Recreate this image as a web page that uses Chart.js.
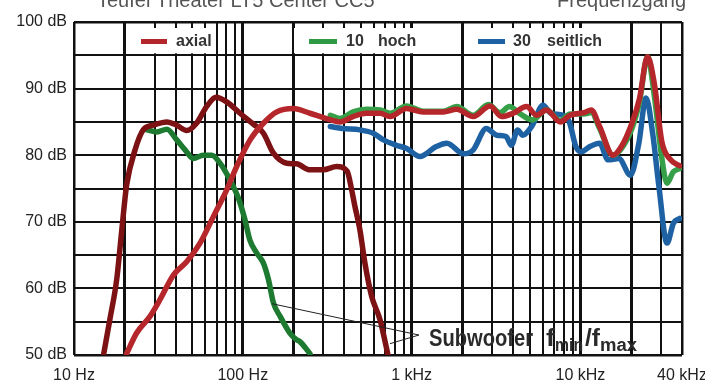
<!DOCTYPE html>
<html><head><meta charset="utf-8">
<script src="https://cdn.jsdelivr.net/npm/chart.js@4.4.1/dist/chart.umd.min.js"></script>
<style>html,body{margin:0;padding:0;background:#fff;overflow:hidden}</style>
</head><body>
<canvas id="c" width="705" height="383"></canvas>
<script>
// ---- axis values ----
const xGridValues = [10,20,30,40,50,60,70,80,90,100,200,300,400,500,600,700,800,900,1000,2000,3000,4000,5000,6000,7000,8000,9000,10000,20000,30000,40000];
const xThickValues = [20,100,200,1000,2000,10000,20000];
const xTickLabels = {10:'10 Hz',100:'100 Hz',1000:'1 kHz',10000:'10 kHz',40000:'40 kHz'};
const yGridValues = [50,55,60,65,70,75,80,85,90,95,100];
const yTickLabels = {50:'50 dB',60:'60 dB',70:'70 dB',80:'80 dB',90:'90 dB',100:'100 dB'};

// ---- series ----
const axialFreq = [20.5,23.5,28.2,32.3,38.8,46.5,55.8,67,80.3,92,110.5,132.5,159,199,250,313,376,450,540,650,745,935,1170,1540,1850,2320,2910,3410,4000,4800,5500,6300,7600,8700,10500,11600,13000,15600,17500,20200,22400,25000,27400,30400,34000,38800];
const axialDb   = [50.2,53.3,55.8,58.3,62.0,64.0,66.8,70.8,74.8,78.3,82.3,84.8,86.5,87.0,86.3,85.5,85.0,85.8,86.3,86.3,85.8,87.0,86.5,86.5,86.9,85.8,87.4,85.8,86.3,87.3,86.0,86.8,85.0,86.0,86.4,86.8,84.3,80.0,81.3,84.8,88.5,94.8,90.8,82.0,79.4,78.4];

const hochFreq = [330,376,450,540,650,745,935,1170,1540,1850,2320,2850,3350,3800,4400,5200,6300,7600,8700,10500,11600,13000,15600,17500,20200,22400,25000,27400,30400,32600,35500,38800];
const hochDb   = [86.0,85.5,86.5,86.9,86.8,86.3,87.4,86.6,86.6,87.3,86.0,87.6,86.4,87.3,86.2,85.3,86.8,85.2,86.2,86.2,86.4,84.0,80.0,81.0,84.0,88.0,94.8,89.0,79.5,75.8,77.5,78.0];

const seitFreq = [330,390,494,593,680,810,935,1120,1400,1620,2030,2320,2770,3200,3630,3900,4250,4550,5200,6000,6700,7900,8600,9400,10100,11400,13000,14600,16900,19800,22200,24500,26800,29200,32600,35600,38800];
const seitDb   = [84.3,84.0,83.8,83.3,82.3,81.5,81.0,79.8,81.3,81.8,80.2,80.8,84.0,83.0,82.8,81.5,83.8,83.0,84.5,87.5,86.3,86.0,85.0,81.3,80.5,81.3,81.8,79.3,79.5,77.0,81.8,88.6,83.3,75.3,66.8,69.8,70.5];

const subMaxFreq = [15,16.3,17.9,19.2,20.5,23,25.7,29.5,35.5,40.6,46.5,53.2,61,69.5,80.3,96.3,115,132.5,152,182,208,250,300,360,415,440,460,494,529,580,650,725];
const subMaxDb   = [50.2,55.3,61.3,68.8,75.5,80.8,83.8,84.5,85.0,84.5,83.7,84.8,87.3,88.7,88.0,86.3,84.7,83.3,80.3,78.8,78.7,77.8,77.8,78.3,77.6,75.0,72.5,68.8,63.8,58.8,55.3,50.0];

const subMinFreq = [27,31,35.5,40.6,45.5,50.9,58.3,65.5,73.3,83.9,94,103,110,121,132.5,142,152,166.5,190,208,218,250];
const subMinDb   = [83.8,83.5,83.9,82.3,80.8,79.5,80.0,80.0,78.8,76.3,73.6,70.3,67.3,65.3,63.8,61.3,57.8,55.8,53.3,52.3,52.0,50.2];

const seriesNames = ['axial','10  hoch','30  seitlich'];
const annotationText = ['Subwoofer','f','min','/f','max'];
const titleLeft = 'Teufel Theater LT5 Center CC5';
const titleRight = 'Frequenzgang';

const zip = (xs, ys) => xs.map((x, i) => ({x, y: ys[i]}));

const FONT = "'Liberation Sans', Arial, sans-serif";

const decorPlugin = {
  id: 'decor',
  beforeDatasetsDraw(chart) {
    const {ctx, chartArea: a, scales} = chart;
    const ys = scales.y;
    const top = a.top + 6, bot = ys.getPixelForValue(95) - 2;
    const boxes = [[127,215],[294,460],[464,628]];
    ctx.save();
    ctx.fillStyle = '#fff';
    boxes.forEach(([l, r]) => ctx.fillRect(l, top, r - l, bot - top));
    const cy = 41.5;
    const items = [
      {c:'#b3262b', s:[141,167], t:[[seriesNames[0],176]]},
      {c:'#2e9a44', s:[309,337], t:[['10',346],['hoch',378]]},
      {c:'#1f62a3', s:[478,505], t:[['30',513],['seitlich',547]]}
    ];
    ctx.font = 'bold 16px ' + FONT;
    ctx.textBaseline = 'middle';
    ctx.fillStyle = '#333';
    items.forEach(it => {
      ctx.strokeStyle = it.c; ctx.lineWidth = 5; ctx.lineCap = 'butt';
      ctx.beginPath(); ctx.moveTo(it.s[0], cy); ctx.lineTo(it.s[1], cy); ctx.stroke();
      it.t.forEach(([txt, x]) => ctx.fillText(txt, x, cy));
    });
    ctx.restore();
  },
  afterDatasetsDraw(chart) {
    const {ctx, scales} = chart;
    const xs = scales.x, ys = scales.y;
    const meet = [xs.getPixelForValue(1106), ys.getPixelForValue(53.0)];
    const g = [xs.getPixelForValue(149), ys.getPixelForValue(57.7)];
    const r = [xs.getPixelForValue(745), ys.getPixelForValue(51.7)];
    ctx.save();
    ctx.strokeStyle = '#222'; ctx.lineWidth = 1;
    ctx.beginPath();
    ctx.moveTo(g[0], g[1]); ctx.lineTo(meet[0], meet[1]);
    ctx.moveTo(r[0], r[1]); ctx.lineTo(meet[0], meet[1]);
    ctx.stroke();
    // annotation text
    ctx.fillStyle = '#2a2a2a';
    ctx.textBaseline = 'alphabetic';
    const base = 346;
    const drawScaled = (txt, x, y, size, w) => {
      ctx.font = 'bold ' + size + 'px ' + FONT;
      const m = ctx.measureText(txt).width;
      ctx.save(); ctx.translate(x, y); ctx.scale(w / m, 1); ctx.fillText(txt, 0, 0); ctx.restore();
    };
    drawScaled(annotationText[0], 429, base, 23, 104);
    drawScaled(annotationText[1], 546, base, 23, 9);
    drawScaled(annotationText[2], 555, base + 5, 18, 28);
    drawScaled(annotationText[3], 585, base, 23, 15);
    drawScaled(annotationText[4], 600, base + 5, 18, 37);
    // title (cut off at top)
    ctx.fillStyle = '#555';
    ctx.font = '20px ' + FONT;
    ctx.textAlign = 'left';
    ctx.fillText(titleLeft, 97, 7);
    ctx.textAlign = 'right';
    ctx.fillText(titleRight, 686, 7);
    ctx.restore();
  }
};

const lineDs = (label, xs, ys, color) => ({
  label, data: zip(xs, ys), borderColor: color, backgroundColor: color,
  borderWidth: 5.5, pointRadius: 0, fill: false,
  cubicInterpolationMode: 'monotone', borderCapStyle: 'round', borderJoinStyle: 'round'
});

new Chart(document.getElementById('c'), {
  type: 'line',
  data: { datasets: [
    lineDs(seriesNames[0], axialFreq, axialDb, '#b5272b'),
    lineDs('Subwoofer fmax', subMaxFreq, subMaxDb, '#7d1214'),
    lineDs(seriesNames[1], hochFreq, hochDb, '#36a049'),
    lineDs('Subwoofer fmin', subMinFreq, subMinDb, '#1d7a30'),
    lineDs(seriesNames[2], seitFreq, seitDb, '#1f62a3')
  ]},
  options: {
    responsive: false, animation: false, devicePixelRatio: 1,
    layout: { padding: { left: 0, right: 23, top: 22, bottom: 0 } },
    plugins: { legend: { display: false }, tooltip: { enabled: false } },
    scales: {
      x: {
        type: 'logarithmic', min: 10, max: 40000,
        afterBuildTicks: s => { s.ticks = xGridValues.map(v => ({ value: v })); },
        afterFit: s => { s.height = 28; s.paddingRight = 0; s.paddingLeft = 0; },
        ticks: { autoSkip: false, maxRotation: 0, minRotation: 0, padding: 11, color: '#222',
          font: { family: FONT, size: 16 }, callback: v => xTickLabels[v] || '' },
        grid: { color: '#111', drawTicks: false,
          lineWidth: c => (c.tick && xThickValues.includes(c.tick.value)) ? 3 : ((c.tick && (c.tick.value === 10 || c.tick.value === 40000)) ? 2.5 : 2) },
        border: { display: false }
      },
      y: {
        min: 50, max: 100,
        afterBuildTicks: s => { s.ticks = yGridValues.map(v => ({ value: v })); },
        afterFit: s => { s.width = 74; },
        ticks: { padding: 7, color: '#222', font: { family: FONT, size: 16 }, callback: v => yTickLabels[v] || '' },
        grid: { color: '#111', drawTicks: false, lineWidth: c => (c.tick && (c.tick.value === 50 || c.tick.value === 100)) ? 2.5 : 2 },
        border: { display: false }
      }
    }
  },
  plugins: [decorPlugin]
});
</script>
</body></html>
